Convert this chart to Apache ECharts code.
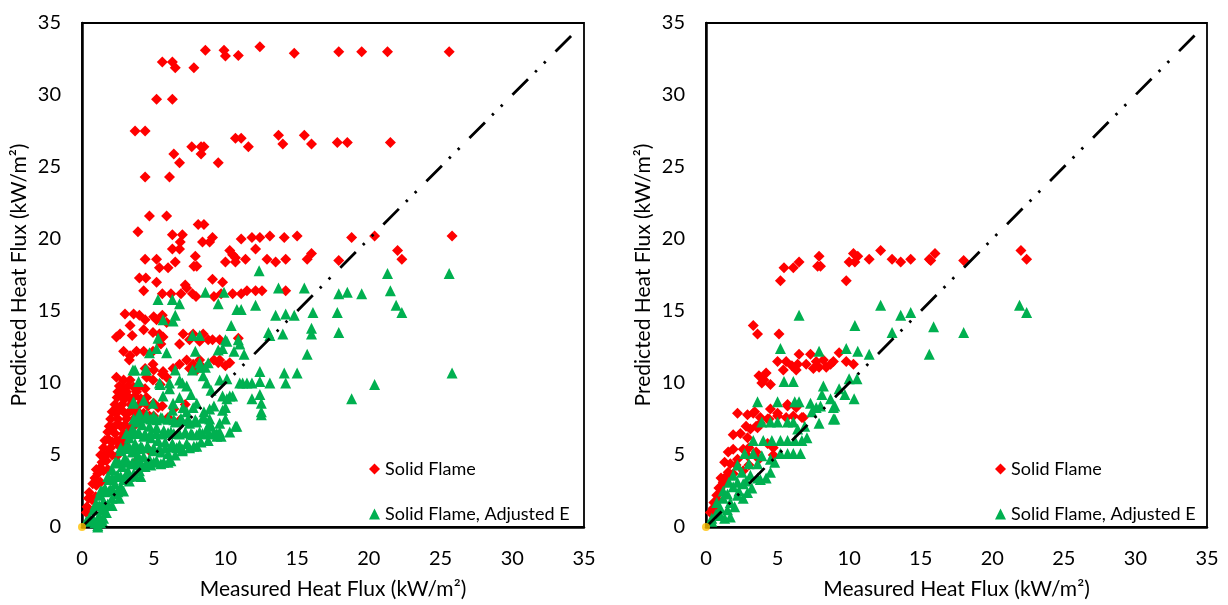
<!DOCTYPE html>
<html>
<head>
<meta charset="utf-8">
<script src="https://cdn.jsdelivr.net/npm/echarts@6/dist/echarts.min.js"></script>
<style>
html,body{margin:0;padding:0;background:#fff;}
#chart{width:1228px;height:605px;}
</style>
</head>
<body>
<div id="chart"></div>
<script>
// ---------- DATA ----------
const axisTicks = [0, 5, 10, 15, 20, 25, 30, 35];
const seriesNames = ['Solid Flame', 'Solid Flame, Adjusted E'];
const xTitle = 'Measured Heat Flux (kW/m²)';
const yTitle = 'Predicted Heat Flux (kW/m²)';

const leftSolid = [
 [5.6,32.3],[6.3,32.3],[6.5,31.9],[7.8,31.9],[8.6,33.1],[9.9,33.1],[10.0,32.7],[10.9,32.75],[12.4,33.35],[14.8,32.9],[17.9,33.0],[19.5,33.0],[21.3,33.0],[25.6,33.0],
 [5.2,29.7],[6.3,29.7],
 [3.7,27.5],[4.4,27.5],[4.4,24.3],[6.1,24.3],[6.4,25.9],[6.8,25.3],[7.65,26.4],[8.3,26.4],[8.5,26.4],[8.3,25.9],[9.5,25.3],[10.7,27.0],[11.1,27.0],[11.6,26.4],[13.7,27.2],[14.0,26.6],[15.5,27.2],[16.0,26.6],[17.8,26.7],[18.5,26.7],[21.5,26.7],
 [3.9,20.5],[4.7,21.6],[5.9,21.6],[8.1,21.0],[8.5,21.0],[6.3,20.3],[7.0,20.3],[6.85,19.8],[8.4,19.8],[8.9,19.8],[9.1,20.1],[11.1,20.0],[11.85,20.1],[12.4,20.1],[13.1,20.2],[14.1,20.1],[15.0,20.2],[18.8,20.1],[20.4,20.2],[25.8,20.2],
 [6.3,19.3],[6.8,19.3],[12.1,19.3],[10.3,19.2],[10.5,18.9],[10.7,18.7],[10.0,18.4],[10.7,18.4],[7.9,18.8],[4.4,18.6],[5.2,18.6],[6.5,18.4],[7.8,18.1],[8.0,18.1],[5.4,18.0],[6.0,18.0],[11.4,18.6],[12.9,18.6],[13.5,18.4],[14.2,18.6],[15.7,18.6],[16.0,19.0],[17.9,18.5],[22.0,19.2],[22.3,18.6],
 [4.0,17.3],[4.45,17.3],[5.2,17.0],[9.1,17.2],[9.8,17.0],[7.2,16.8],[7.3,16.6],
 [4.3,16.4],[5.6,16.2],[6.2,16.2],[6.9,16.2],[7.7,16.2],[7.95,16.0],[9.2,16.0],[9.7,16.2],[10.5,16.2],[11.1,16.2],[11.5,16.4],[12.1,16.4],[12.55,16.4],[14.2,16.4],
 [3.0,14.8],[3.6,14.8],[4.0,14.7],[3.35,14.0],[3.5,13.3],[2.65,13.4],[2.4,13.2],[4.4,14.4],[5.0,14.6],[5.2,14.4],[5.6,14.7],[5.9,14.2],[4.3,13.7],[4.95,13.5],[5.4,13.4],[5.65,13.2],[5.5,12.7],[6.8,12.7],[7.05,13.4],[7.5,13.0],[7.75,13.4],[8.2,12.9],[8.45,13.4],[8.8,13.0],[9.1,13.0],[9.6,13.0],[10.9,13.1],
 [2.9,12.2],[3.35,11.9],[3.8,12.2],[4.3,12.2],[4.95,12.2],[3.3,11.6],[4.95,11.3],[5.65,10.8],[5.9,10.4],[6.35,11.0],[6.8,11.3],[7.3,11.6],[7.75,11.3],[8.2,11.6],[9.2,11.6],[9.6,11.6],[10.3,11.4],
 [2.4,10.4],[2.9,10.2],[3.35,10.2],[4.5,10.4],[4.95,10.2],[5.45,9.9],[4.4,11.0],[5.0,10.9],[5.6,10.6],[7.5,11.0],[8.0,10.9],[8.4,11.1],[9.5,11.4],[10.0,11.2],
 [0.3,1.0],[0.5,1.1],[0.35,1.4],[0.45,2.0],[0.7,1.9],[0.95,2.1],[0.5,2.4],[0.75,3.0],[1.0,2.9],[1.3,3.1],[0.9,3.4],
 [1.0,4.0],[1.25,4.1],[1.5,3.9],[1.8,4.0],[1.1,3.7],[1.3,5.0],[1.55,4.9],[1.8,5.1],[2.1,5.0],[2.4,4.9],[1.4,4.5],[1.7,4.6],
 [1.6,6.0],[1.85,6.1],[2.1,5.9],[2.4,6.0],[2.7,6.1],[3.0,5.9],[1.5,5.5],[2.0,5.5],[2.6,5.6],
 [1.9,7.0],[2.15,6.9],[2.4,7.1],[2.7,7.0],[3.0,7.1],[3.3,6.9],[3.6,7.0],[1.8,6.6],[2.3,6.5],[2.9,6.5],[3.4,6.4],
 [2.1,8.0],[2.35,7.9],[2.6,8.1],[2.9,8.0],[3.2,7.9],[3.5,8.1],[3.9,8.0],[4.3,7.9],[2.0,7.5],[2.5,7.5],[3.1,7.5],[3.7,7.6],[4.1,7.5],
 [2.45,9.0],[2.7,9.1],[3.0,8.9],[3.3,9.0],[3.7,9.1],[4.1,8.9],[4.5,9.0],[2.3,8.5],[2.8,8.5],[3.4,8.5],[4.0,8.5],[4.6,8.4],[5.0,8.6],
 [2.6,9.8],[2.9,9.6],[3.2,9.8],[3.6,9.7],[4.0,9.8],[4.4,9.6],[2.5,9.4],[3.1,9.4],[3.8,9.4],
 [3.7,4.5],[4.7,5.3],[4.7,7.7],[5.3,8.3],[5.6,8.4],[6.0,7.6],[6.4,8.2],[6.8,7.4],[7.2,8.5],[4.6,7.5],[5.0,7.7]
];

const leftAdjusted = [
 [12.35,17.8],[21.3,17.6],[25.6,17.6],[13.7,16.6],[15.5,16.6],[17.9,16.2],[18.5,16.3],[19.5,16.2],[21.5,16.4],[21.9,15.4],[22.3,14.9],
 [5.3,15.8],[6.3,15.8],[6.8,15.5],[8.6,16.3],[9.9,16.3],[9.5,15.5],[10.8,15.1],[11.1,15.1],[12.1,15.4],[13.5,14.7],[14.2,14.8],[14.8,14.7],[16.1,14.9],[17.8,14.9],
 [6.5,14.7],[5.65,14.4],[6.35,14.3],[10.4,14.0],[13.0,13.5],[13.1,13.3],[14.0,13.4],[16.0,13.8],[16.0,13.4],[17.9,13.5],[15.7,12.0],
 [7.7,13.3],[8.2,13.3],[10.0,13.0],[10.9,13.0],[4.7,12.1],[5.2,12.4],[5.3,13.1],[5.9,12.1],[7.9,12.2],[9.8,12.4],[10.6,12.2],[11.3,12.0],[9.5,12.3],[10.1,12.9],[11.0,12.7],
 [8.2,11.4],[8.8,11.4],[8.6,11.1],[3.55,10.9],[3.95,10.1],[4.5,10.9],[3.7,10.9],[4.4,10.9],[6.5,10.9],[7.7,10.9],[8.2,11.1],[8.45,10.5],[8.7,10.0],
 [5.4,10.0],[6.1,10.0],[7.0,10.0],[6.8,10.2],[7.3,9.8],[5.45,9.9],[6.1,9.6],[9.6,10.2],[10.1,10.3],
 [11.0,10.0],[11.2,10.0],[11.5,10.0],[11.85,10.0],[12.4,10.1],[13.1,10.0],[12.4,10.8],[14.1,10.7],[15.0,10.7],[14.2,10.0],[20.4,9.9],[18.8,8.9],[25.8,10.7],
 [9.8,9.1],[10.3,9.1],[10.5,9.1],[10.1,8.9],[11.85,8.9],[12.4,9.2],[12.5,8.6],[12.5,8.0],[12.5,7.8],[10.0,8.3],[8.9,8.2],[8.9,7.2],[8.9,7.5],[10.8,7.0],[10.7,7.0],[9.4,6.5],[9.4,6.3],
 [3.55,8.6],[3.6,8.7],[4.3,8.8],[4.95,8.6],[5.65,9.1],[6.35,8.6],[7.05,8.3],[7.75,8.3],
 [0.3,0.4],[0.6,0.5],[0.9,0.3],[1.1,0.0],[1.1,0.1],[1.2,0.8],[1.5,0.6],[0.8,1.2],[1.0,1.6],[1.4,1.2],[1.7,1.0],[1.3,0.3],
 [0.5,0.6],[0.8,0.5],[1.1,0.55],[1.4,0.45],[0.9,1.5],[1.2,1.5],[1.5,1.45],[1.8,1.55],[2.1,1.5],
 [1.3,2.5],[1.6,2.45],[1.9,2.55],[2.2,2.5],[2.5,2.45],[2.9,2.5],
 [1.8,3.5],[2.1,3.45],[2.4,3.55],[2.7,3.5],[3.0,3.45],[3.3,3.5],[3.7,3.55],[4.1,3.5],
 [2.3,4.5],[2.6,4.45],[2.9,4.55],[3.2,4.5],[3.5,4.45],[3.8,4.55],[4.1,4.5],[4.5,4.45],[5.0,4.5],[5.5,4.4],[6.0,4.5],
 [2.7,5.5],[3.0,5.45],[3.3,5.55],[3.6,5.5],[3.9,5.45],[4.2,5.5],[4.6,5.55],[5.0,5.5],[5.4,5.45],[5.8,5.5],[6.2,5.55],[6.6,5.5],[7.0,5.4],[7.5,5.5],[8.0,5.6],
 [3.1,6.5],[3.4,6.45],[3.7,6.55],[4.0,6.5],[4.4,6.45],[4.8,6.55],[5.2,6.5],[5.6,6.45],[6.0,6.55],[6.4,6.5],[6.8,6.45],[7.2,6.55],[7.6,6.5],[8.0,6.4],[8.4,6.5],[8.8,6.45],[9.2,6.55],[9.6,6.6],
 [3.6,7.5],[4.0,7.45],[4.4,7.55],[4.8,7.5],[5.2,7.45],[5.6,7.55],[6.0,7.5],[6.4,7.45],[6.9,7.55],[7.4,7.5],[7.9,7.45],[8.4,7.55],
 [1.2,2.2],[1.5,1.8],[1.8,1.6],[2.1,2.0],[1.6,2.7],[2.0,2.6],[2.4,2.3],[1.9,3.3],[2.3,3.0],[2.7,2.8],[1.4,2.5],[2.6,2.0],
 [2.1,4.0],[2.5,3.6],[2.9,3.3],[3.3,3.2],[2.4,4.5],[2.8,4.2],[3.2,3.9],[3.6,3.7],[4.0,3.9],[3.0,4.8],[3.5,4.4],[3.9,4.3],[4.4,4.2],[4.8,4.3],
 [2.7,5.3],[3.1,5.6],[3.5,5.2],[3.9,5.0],[4.3,4.9],[4.7,4.7],[5.2,4.6],[5.7,4.5],[6.2,4.6],[3.3,6.2],[3.7,5.8],[4.1,5.6],[4.5,5.5],[5.0,5.3],[5.5,5.2],[6.0,5.1],[6.5,5.0],[7.0,5.3],
 [3.5,6.8],[3.9,6.5],[4.3,6.3],[4.8,6.2],[5.3,6.0],[5.8,5.9],[6.3,5.8],[6.8,5.7],[7.3,5.8],[7.8,5.6],[8.3,5.9],[8.8,6.0],[3.8,7.3],[4.2,7.1],[4.7,7.0],[5.2,6.9],[5.7,6.7],[6.2,6.6],[6.7,6.5],[7.2,6.6],[7.7,6.4],[8.2,6.6],[8.7,6.8],[9.2,6.5],[9.7,6.3],[10.3,6.6],
 [4.0,7.9],[4.5,7.8],[5.0,7.7],[5.5,7.6],[6.0,7.5],[6.5,7.3],[7.0,7.4],[7.5,7.2],[8.0,7.3],[8.5,7.6],[9.0,7.0],[9.6,7.2],[10.0,7.5],[6.3,8.1],[7.3,8.0],[8.0,8.6],[8.5,8.0],[9.2,8.4],[9.8,8.1],[6.8,9.0],[7.6,9.2],[9.0,9.5]
];

const rightSolid = [
 [7.9,18.8],[7.8,18.1],[8.0,18.1],[6.5,18.4],[6.1,18.0],[5.45,18.0],[5.2,17.1],[9.8,17.1],[10.3,19.0],[10.6,18.8],[10.0,18.4],[10.4,18.4],[11.4,18.6],[12.2,19.2],[13.0,18.6],[13.6,18.4],[14.3,18.6],[15.6,18.6],[16.0,19.0],[15.7,18.5],[18.0,18.5],[22.0,19.2],[22.4,18.6],
 [3.3,14.0],[3.6,13.4],[5.1,13.4],
 [5.0,11.5],[5.6,11.5],[5.4,10.9],[6.4,11.3],[6.3,10.9],[6.5,12.0],[7.0,11.3],[7.3,12.0],[7.7,11.5],[7.9,11.1],[8.2,11.6],[8.9,11.5],[8.7,11.3],[9.3,12.1],[9.8,11.5],[10.3,11.3],[6.0,11.2],[7.5,11.0],[8.4,11.1],
 [3.7,10.5],[4.05,10.2],[4.5,9.9],[4.2,10.7],[3.9,10.0],[5.7,8.5],
 [2.2,7.9],[2.9,7.8],[3.3,7.9],[3.4,8.0],[4.5,8.2],[5.0,7.9],[5.7,8.4],[6.3,8.3],[6.8,7.6],[5.6,7.6],[3.8,7.6],[4.4,7.5],[3.5,7.0],[2.8,7.0],
 [1.9,6.4],[2.4,6.5],[3.1,6.8],[3.6,6.9],[3.8,7.2],[4.3,7.5],[5.0,7.7],[6.1,7.7],[6.7,7.6],[2.9,6.2],
 [1.55,5.2],[1.9,5.4],[2.2,4.7],[2.9,4.95],[2.6,5.4],[3.0,5.5],[3.5,5.2],[3.7,4.7],[4.7,5.0],[4.3,5.8],[4.7,5.5],[1.3,4.5],[1.7,4.4],
 [1.55,3.8],[2.1,4.3],[1.25,3.1],[0.9,2.7],[0.55,1.7],[0.5,1.3],[1.05,3.4],[1.9,3.7],[2.6,3.9],[3.0,4.3],[0.75,2.2],[1.0,2.7],[1.2,3.1],[0.6,1.7],[0.3,1.0],[0.8,1.9],[1.4,3.5]
];

const rightAdjusted = [
 [6.5,14.7],[12.2,15.4],[13.6,14.7],[14.3,14.9],[10.4,14.0],[13.0,13.5],[15.6,12.0],[15.9,13.9],[21.9,15.4],[22.4,14.9],[18.0,13.5],
 [5.2,12.4],[7.9,12.2],[10.6,12.2],[9.8,12.4],[11.4,12.0],
 [5.45,10.1],[6.1,10.1],[8.2,9.8],[8.1,9.2],[9.3,9.6],[10.0,10.3],[10.55,10.3],[10.35,8.9],[9.7,9.2],[8.7,8.9],[9.0,8.4],[9.0,7.5],
 [3.6,8.7],[5.0,8.7],[6.2,8.7],[6.5,8.7],[7.3,8.6],[7.7,8.3],[8.0,8.4],[8.9,8.3],[8.9,7.5],[7.9,7.2],[7.4,8.0],[6.4,6.8],[6.9,7.0],
 [3.9,7.3],[4.5,7.3],[5.0,7.3],[5.7,7.3],[6.1,7.3],
 [3.3,6.0],[4.0,6.0],[4.6,6.0],[5.2,6.0],[5.7,6.0],[6.2,6.0],[6.7,6.0],[7.05,6.2],
 [5.2,5.1],[5.7,5.1],[6.1,5.1],[6.6,5.1],[2.7,5.1],[3.3,5.1],[3.9,4.95],[4.5,4.7],[4.8,4.5],[2.2,4.3],[3.0,4.4],[3.6,4.4],
 [1.9,3.6],[2.5,3.8],[3.1,3.6],[3.6,3.4],[4.2,3.4],[4.5,3.8],[1.6,3.1],[2.2,3.1],[2.8,3.2],
 [1.2,2.5],[1.9,2.8],[2.6,3.0],[3.2,2.7],[3.8,3.3],[1.5,2.3],[2.3,2.5],[2.9,2.4],
 [0.75,1.7],[1.2,2.0],[1.7,1.7],[2.2,2.2],[2.6,2.0],[1.0,1.3],[1.5,1.2],[2.0,1.4],
 [0.4,0.6],[1.0,0.8],[1.7,0.7],[0.4,0.4],[0.7,0.9],[1.3,0.6]
];

const diagonal = [[0, 0], [34.5, 34.5]];
const origin = [[0, 0]];

// ---------- CHART ----------
const FONT = 'Lato';
const RED = '#FF0000', GREEN = '#00B050';
const grids = [
  {left: 82, top: 23, width: 502, height: 509},
  {left: 706, top: 23, width: 501, height: 509}
];

function xAx(i) {
  return {
    gridIndex: i, type: 'value', min: 0, max: 35, interval: 5,
    name: xTitle, nameLocation: 'middle', nameGap: 52,
    nameTextStyle: {fontFamily: FONT, fontSize: 21, color: '#000'},
    axisLine: {show: true, onZero: false, lineStyle: {color: '#000', width: 2.5}},
    axisTick: {show: false},
    axisLabel: {fontFamily: FONT, fontSize: 20, color: '#000', margin: 22},
    splitLine: {show: false}
  };
}
function yAx(i) {
  return {
    gridIndex: i, type: 'value', min: 0, max: 35, interval: 5,
    name: yTitle, nameLocation: 'middle', nameGap: 52,
    nameTextStyle: {fontFamily: FONT, fontSize: 21, color: '#000'},
    axisLine: {show: true, onZero: false, lineStyle: {color: '#000', width: 2.5}},
    axisTick: {show: false},
    axisLabel: {fontFamily: FONT, fontSize: 20, color: '#000', margin: 21},
    splitLine: {show: false}
  };
}
function seriesFor(i, solid, adjusted) {
  return [
    {name: seriesNames[0], type: 'scatter', xAxisIndex: i, yAxisIndex: i, data: solid,
     symbol: 'diamond', symbolSize: 11, itemStyle: {color: RED, opacity: 1}, z: 2},
    {name: seriesNames[1], type: 'scatter', xAxisIndex: i, yAxisIndex: i, data: adjusted,
     symbol: 'triangle', symbolSize: 11, itemStyle: {color: GREEN, opacity: 1}, z: 3},
    {name: 'Line', type: 'line', xAxisIndex: i, yAxisIndex: i, data: diagonal, showSymbol: false, symbol: 'none',
     lineStyle: {color: '#000', width: 2.8, type: [22, 10, 2.5, 10, 2.5, 14]}, z: 4, silent: true},
    {name: 'Origin', type: 'scatter', xAxisIndex: i, yAxisIndex: i, data: origin,
     symbol: 'circle', symbolSize: 8, itemStyle: {color: '#FFC000'}, z: 5}
  ];
}
function legendAt(left) {
  return {
    left: left, top: 455, orient: 'vertical', itemGap: 27, itemWidth: 11, itemHeight: 11,
    textStyle: {fontFamily: FONT, fontSize: 18, color: '#000'},
    data: [{name: seriesNames[0], icon: 'diamond'}, {name: seriesNames[1], icon: 'triangle'}],
    selectedMode: false
  };
}

const chart = echarts.init(document.getElementById('chart'), null, {renderer: 'canvas'});
chart.setOption({
  animation: false,
  backgroundColor: '#fff',
  grid: grids.map(g => Object.assign({show: true, borderColor: '#000', borderWidth: 1.8, backgroundColor: 'transparent'}, g)),
  xAxis: [xAx(0), xAx(1)],
  yAxis: [yAx(0), yAx(1)],
  legend: [legendAt(364), legendAt(990)],
  series: seriesFor(0, leftSolid, leftAdjusted).concat(seriesFor(1, rightSolid, rightAdjusted))
});
</script>
</body>
</html>
